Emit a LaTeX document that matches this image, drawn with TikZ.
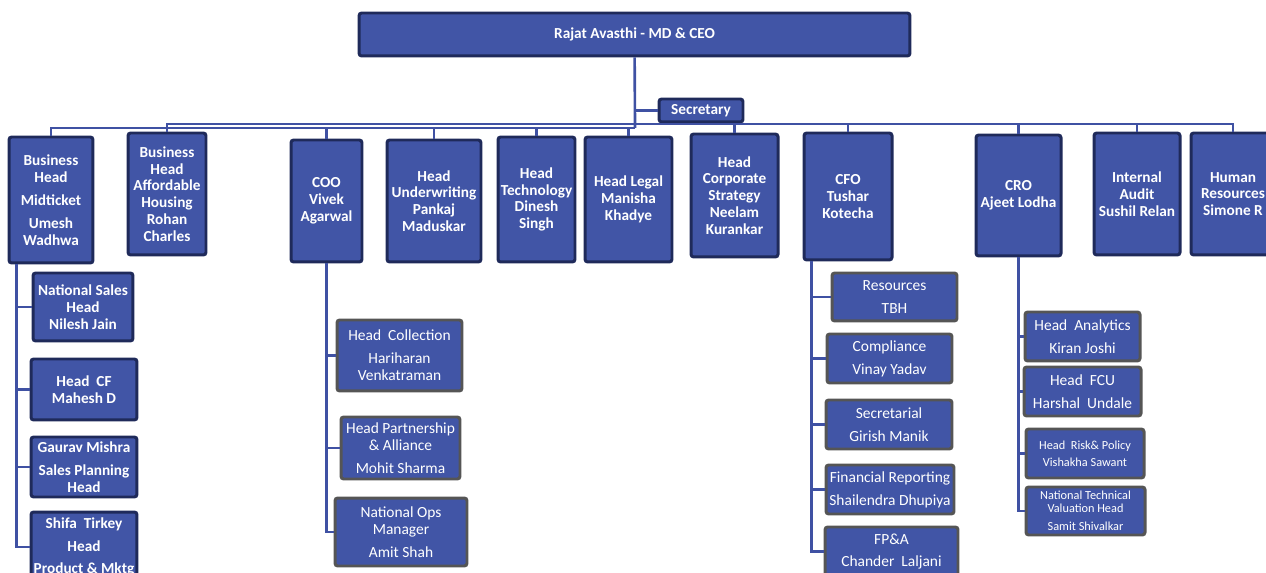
\documentclass[tikz,border=0pt]{standalone}
\usepackage{fontspec}
\setmainfont{Carlito}
\usepackage{tikz}

\definecolor{boxblue}{RGB}{65,85,166}
\definecolor{navy}{RGB}{31,42,90}
\definecolor{edgegray}{RGB}{85,85,85}
\definecolor{linkblue}{RGB}{63,81,163}

\begin{document}
\begin{tikzpicture}[x=0.02cm,y=-0.02cm]
\tikzstyle{topbox} = [rectangle, rounded corners=1.5pt, draw=navy, line width=1.7pt,
  fill=boxblue, text=white, align=center, inner sep=1pt,
  font=\fontsize{8.7}{9.6}\selectfont\bfseries]
\tikzstyle{leadbox} = [topbox]
\tikzstyle{subbox} = [topbox, draw=edgegray, font=\fontsize{8.8}{9.6}\selectfont]
\tikzstyle{smallbox} = [subbox, font=\fontsize{7}{7.4}\selectfont]
\tikzstyle{conn} = [draw=linkblue, line width=1.5pt]

\useasboundingbox (0,0) rectangle (1266,573);

% top row
\node[topbox, minimum width=11.02cm, minimum height=0.86cm] (ceo) at (634.5,34.5) {Rajat Avasthi - MD \& CEO};
\node[topbox, minimum width=1.68cm, minimum height=0.46cm] (sec) at (701,110.5) {Secretary};

\node[topbox, minimum width=1.68cm, minimum height=2.52cm] (midt) at (51,200) {Business\\Head\\[3.4pt]Midticket\\[3.4pt]Umesh\\Wadhwa};
\node[topbox, minimum width=1.56cm, minimum height=2.44cm] (afford) at (167,194) {Business\\Head\\Affordable\\Housing\\Rohan\\Charles};
\node[topbox, minimum width=1.42cm, minimum height=2.44cm] (coo) at (326.5,201) {COO\\Vivek\\Agarwal};
\node[topbox, minimum width=1.88cm, minimum height=2.44cm] (uw) at (434,201) {Head\\Underwriting\\Pankaj\\Maduskar};
\node[topbox, minimum width=1.54cm, minimum height=2.50cm] (tech) at (536.5,199.5) {Head\\Technology\\Dinesh\\Singh};
\node[topbox, minimum width=1.74cm, minimum height=2.50cm] (legal) at (628.5,199.5) {Head Legal\\Manisha\\Khadye};
\node[topbox, minimum width=1.74cm, minimum height=2.46cm] (strat) at (734.5,195.5) {Head\\Corporate\\Strategy\\Neelam\\Kurankar};
\node[topbox, minimum width=1.76cm, minimum height=2.54cm] (cfo) at (848,196.5) {CFO\\Tushar\\Kotecha};
\node[topbox, minimum width=1.70cm, minimum height=2.42cm] (cro) at (1018.5,195.5) {CRO\\Ajeet Lodha};
\node[topbox, minimum width=1.72cm, minimum height=2.44cm] (audit) at (1137,194) {Internal\\Audit\\Sushil Relan};
\node[topbox, minimum width=1.68cm, minimum height=2.44cm] (hr) at (1233,194) {Human\\Resources\\Simone R};

% midticket team
\node[leadbox, minimum width=2.00cm, minimum height=1.36cm] (nsh) at (83,307) {National Sales\\Head\\Nilesh Jain};
\node[leadbox, minimum width=2.12cm, minimum height=1.22cm] (hcf) at (84,389.5) {Head\ \ CF\\Mahesh D};
\node[leadbox, minimum width=2.12cm, minimum height=1.20cm] (gm) at (84,467) {Gaurav Mishra\\[3.4pt]Sales Planning\\Head};
\node[leadbox, minimum width=2.12cm, minimum height=1.40cm] (st) at (84,547) {Shifa\ \ Tirkey\\[3.4pt]Head\\[3.4pt]Product \& Mktg};

% coo team
\node[subbox, minimum width=2.50cm, minimum height=1.42cm] (hc) at (399.5,355.5) {Head\ \ Collection\\[3.4pt]Hariharan\\Venkatraman};
\node[subbox, minimum width=2.38cm, minimum height=1.24cm] (hp) at (400.5,448) {Head Partnership\\\& Alliance\\[3.4pt]Mohit Sharma};
\node[subbox, minimum width=2.64cm, minimum height=1.36cm] (nom) at (401,532) {National Ops\\Manager\\[3.4pt]Amit Shah};

% cfo team
\node[subbox, minimum width=2.50cm, minimum height=0.96cm] (res) at (894.5,297) {Resources\\[3.4pt]TBH};
\node[subbox, minimum width=2.50cm, minimum height=0.98cm] (comp) at (889.5,358.5) {Compliance\\[3.4pt]Vinay Yadav};
\node[subbox, minimum width=2.52cm, minimum height=0.98cm] (secl) at (889,424.5) {Secretarial\\[3.4pt]Girish Manik};
\node[subbox, minimum width=2.56cm, minimum height=0.98cm] (fr) at (890,489.5) {Financial Reporting\\[3.4pt]Shailendra Dhupiya};
\node[subbox, minimum width=2.66cm, minimum height=0.98cm] (fpa) at (891.5,551.5) {FP\&A\\[3.4pt]Chander\ \ Laljani};

% cro team
\node[subbox, minimum width=2.30cm, minimum height=0.98cm] (ha) at (1082.5,336.5) {Head\ \ Analytics\\[3.4pt]Kiran Joshi};
\node[subbox, minimum width=2.34cm, minimum height=0.98cm] (hfcu) at (1082.5,391.5) {Head\ \ FCU\\[3.4pt]Harshal\ \ Undale};
\node[smallbox, minimum width=2.36cm, minimum height=0.98cm] (hrp) at (1085,453.5) {Head\ \ Risk\& Policy\\[2.2pt]Vishakha Sawant};
\node[smallbox, minimum width=2.38cm, minimum height=0.96cm] (ntv) at (1085.5,511) {National Technical\\Valuation Head\\[2.8pt]Samit Shivalkar};

% links
\coordinate (busA) at (635,128);
\coordinate (busB) at (635,124);
\draw[conn] (ceo) -- (busA);
\draw[conn] (sec.west) -- (sec.west -| busA);
\foreach \n in {midt,coo,uw,tech,legal}
  \draw[conn] (\n.north) |- (busA);
\foreach \n in {afford,strat,cfo,cro,audit,hr}
  \draw[conn] (\n.north) |- (busB);

\coordinate (midtspine) at ([xshift=0.18cm]midt.south west);
\foreach \n in {nsh,hcf,gm,st}
  \draw[conn] (midtspine) |- (\n.west);
\foreach \n in {hc,hp,nom}
  \draw[conn] (coo.south) |- (\n.west);
\coordinate (cfospine) at ([xshift=0.18cm]cfo.south west);
\foreach \n in {res,comp,secl,fr,fpa}
  \draw[conn] (cfospine) |- (\n.west);
\foreach \n in {ha,hfcu,hrp,ntv}
  \draw[conn] (cro.south) |- (\n.west);
\end{tikzpicture}
\end{document}
